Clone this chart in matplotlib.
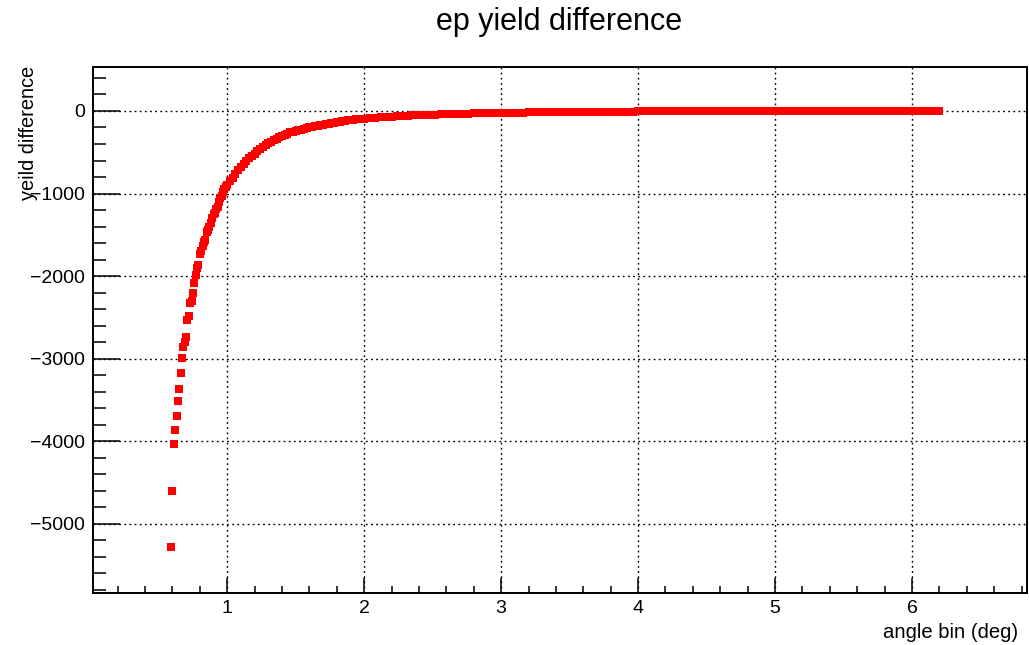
import matplotlib

matplotlib.use("Agg")

import matplotlib.pyplot as plt
from matplotlib.ticker import MultipleLocator
import numpy as np

# steep part, bins of 0.01 deg
angle_steep = [0.59, 0.60, 0.61, 0.62, 0.63, 0.64, 0.65, 0.66, 0.67, 0.68,
               0.69, 0.70, 0.71, 0.72, 0.73, 0.74, 0.75, 0.76, 0.77, 0.78,
               0.79, 0.80, 0.81, 0.82, 0.83, 0.84, 0.85, 0.86, 0.87, 0.88,
               0.89, 0.90, 0.91, 0.92, 0.93, 0.94, 0.95, 0.96, 0.97, 0.98,
               0.99, 1.00]
diff_steep = [-5280, -4610, -4030, -3870, -3690, -3510, -3370, -3180, -2990, -2860,
              -2800, -2740, -2530, -2480, -2330, -2300, -2210, -2080, -1990, -1900,
              -1860, -1730, -1700, -1640, -1590, -1560, -1470, -1440, -1400, -1360,
              -1300, -1250, -1230, -1190, -1160, -1100, -1050, -1030, -980, -950,
              -920, -900]

# knee, 1 to 2 deg
angle_knee = [1.02, 1.04, 1.06, 1.08, 1.10, 1.12, 1.14, 1.16, 1.18, 1.20,
              1.22, 1.24, 1.26, 1.28, 1.30, 1.32, 1.34, 1.36, 1.38, 1.40,
              1.42, 1.44, 1.46, 1.48, 1.50, 1.52, 1.54, 1.56, 1.58, 1.60,
              1.62, 1.64, 1.66, 1.68, 1.70, 1.72, 1.74, 1.76, 1.78, 1.80,
              1.82, 1.84, 1.86, 1.88, 1.90, 1.92, 1.94, 1.96, 1.98, 2.00]
diff_knee = [-850, -810, -765, -720, -680, -645, -600, -575, -545, -520,
             -490, -465, -440, -410, -385, -370, -355, -345, -320, -300,
             -285, -275, -260, -250, -240, -232, -225, -215, -208, -200,
             -195, -185, -178, -172, -165, -158, -152, -145, -140, -133,
             -128, -125, -120, -115, -110, -106, -103, -100, -96, -93]

# flat tail, 2 to 6.2 deg
angle_tail = [2.04, 2.08, 2.12, 2.16, 2.20, 2.24, 2.28, 2.32, 2.36, 2.40,
              2.44, 2.48, 2.52, 2.56, 2.60, 2.64, 2.68, 2.72, 2.76, 2.80,
              2.84, 2.88, 2.92, 2.96, 3.00, 3.04, 3.08, 3.12, 3.16, 3.20,
              3.24, 3.28, 3.32, 3.36, 3.40, 3.44, 3.48, 3.52, 3.56, 3.60,
              3.64, 3.68, 3.72, 3.76, 3.80, 3.84, 3.88, 3.92, 3.96, 4.00,
              4.04, 4.08, 4.12, 4.16, 4.20, 4.24, 4.28, 4.32, 4.36, 4.40,
              4.44, 4.48, 4.52, 4.56, 4.60, 4.64, 4.68, 4.72, 4.76, 4.80,
              4.84, 4.88, 4.92, 4.96, 5.00, 5.04, 5.08, 5.12, 5.16, 5.20,
              5.24, 5.28, 5.32, 5.36, 5.40, 5.44, 5.48, 5.52, 5.56, 5.60,
              5.64, 5.68, 5.72, 5.76, 5.80, 5.84, 5.88, 5.92, 5.96, 6.00,
              6.04, 6.08, 6.12, 6.16, 6.20]
diff_tail = [-88, -83, -78, -72, -69, -64, -61, -57, -54, -51,
             -48, -45, -43, -40, -38, -36, -34, -33, -31, -29,
             -28, -26, -25, -24, -23, -22, -20, -19, -19, -17,
             -17, -16, -15, -14, -14, -13, -12, -12, -11, -10,
             -10, -10, -9, -9, -8, -8, -7, -7, -7, -6,
             -6, -6, -5, -6, -5, -5, -4, -5, -4, -4,
             -4, -3, -4, -3, -3, -3, -3, -2, -3, -2,
             -2, -3, -2, -2, -2, -2, -1, -2, -1, -2,
             -1, -1, -2, -1, -1, -1, -1, 0, -1, -1,
             0, -1, 0, -1, 0, 0, -1, 0, 0, 0,
             0, 1, 0, 0, 0]

title = "ep yield difference"
xlabel = "angle bin (deg)"
ylabel = "yeild difference"

plt.rcParams["font.family"] = ["Liberation Sans", "DejaVu Sans"]

W, H = 1029, 645
fig = plt.figure(figsize=(W / 100, H / 100), dpi=100)
ax = fig.add_axes([93 / W, 1 - 593 / H, (1027 - 93) / W, (593 - 67) / H])

angle = np.concatenate([angle_steep, angle_knee, angle_tail])
diff = np.concatenate([diff_steep, diff_knee, diff_tail])
ax.plot(angle, diff, ls="none", marker="s", ms=5.4, color="#ff0000",
        mec="#ff0000", mew=0, zorder=3)

ax.set_xlim(0.02, 6.84)
ax.set_ylim(-5840, 533)

ax.xaxis.set_major_locator(MultipleLocator(1))
ax.xaxis.set_minor_locator(MultipleLocator(0.2))
ax.yaxis.set_major_locator(MultipleLocator(1000))
ax.yaxis.set_minor_locator(MultipleLocator(200))

ax.grid(True, which="major", color="black", lw=1.0, ls=(0, (1.3, 2.4)))

ax.tick_params(axis="x", which="major", direction="in", length=10.8, width=1.1,
               labelsize=14, pad=5, top=False)
ax.tick_params(axis="x", which="minor", direction="in", length=5.4, width=1.1, top=False)
ax.tick_params(axis="y", which="major", direction="in", length=19.4, width=1.1,
               labelsize=14, pad=6, right=False)
ax.tick_params(axis="y", which="minor", direction="in", length=9.7, width=1.1, right=False)
for sp in ax.spines.values():
    sp.set_linewidth(1.4)

fig.text(559 / W, 1 - 22 / H, title, ha="center", va="center", fontsize=22)
fig.text(1018 / W, 1 - 632 / H, xlabel, ha="right", va="center", fontsize=14.6)
fig.text(28 / W, 1 - 66 / H, ylabel, ha="center", va="top", rotation=90, fontsize=14.4)

fig.savefig("out.png", dpi=100)
plt.close(fig)
